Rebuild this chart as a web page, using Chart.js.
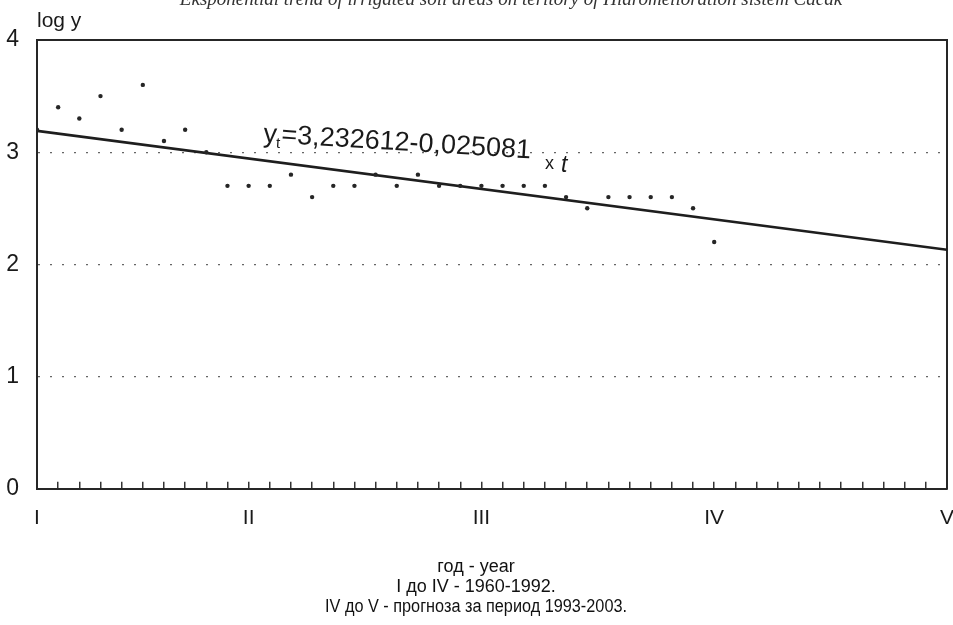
<!DOCTYPE html>
<html>
<head>
<meta charset="utf-8">
<script src="https://cdn.jsdelivr.net/npm/chart.js@4.4.1/dist/chart.umd.min.js"></script>
<style>
  html, body { margin: 0; padding: 0; background: #fff; }
  #trendChart { display: block; }
</style>
</head>
<body>
<canvas id="trendChart" width="953" height="625"></canvas>
<script>
// observed years (I .. IV) and log of irrigated area
const years = [1960, 1961, 1962, 1963, 1964, 1965, 1966, 1967, 1968, 1969, 1970,
  1971, 1972, 1973, 1974, 1975, 1976, 1977, 1978, 1979, 1980,
  1981, 1982, 1983, 1984, 1985, 1986, 1987, 1988, 1989, 1990, 1991, 1992];
const logValues = [3.2, 3.4, 3.3, 3.5, 3.2, 3.6, 3.1, 3.2, 3.0, 2.7, 2.7,
  2.7, 2.8, 2.6, 2.7, 2.7, 2.8, 2.7, 2.8, 2.7, 2.7,
  2.7, 2.7, 2.7, 2.7, 2.6, 2.5, 2.6, 2.6, 2.6, 2.6, 2.5, 2.2];

// trend line, ends (prognosis runs to 2003)
const trendYears = [1960, 2003];
const trendValues = [3.19, 2.13];

const romanYears = [1960, 1970, 1981, 1992, 2003];
const romanLabels = ["I", "II", "III", "IV", "V"];
const firstYear = 1960;
const lastYear = 2003;

const titleText = "Eksponential trend of irrigated soil areas on teritory of Hidromelioration sistem Čačak";
const axisYName = "log y";
const footerLines = ["год - year", "I до IV - 1960-1992.", "IV до V - прогноза за период 1993-2003."];
const eqMain = "=3,232612-0,025081";

const SANS = '"Liberation Sans", Arial, sans-serif';
const SERIF = '"Liberation Serif", "Times New Roman", serif';
const INK = "#1a1a1a";

const textPlugin = {
  id: "extraText",
  afterDraw(chart) {
    const { ctx, chartArea } = chart;
    ctx.save();
    ctx.textBaseline = "alphabetic";

    // title, cut by the top edge as in the scan
    ctx.textAlign = "center";
    ctx.fillStyle = "#333";
    ctx.font = "italic 19px " + SERIF;
    ctx.fillText(titleText, 511, 5);

    // footer under the axis, the scan's font runs a bit narrow on the long line
    ctx.fillStyle = "#111";
    ctx.font = "18px " + SANS;
    ctx.textBaseline = "middle";
    const footerWidths = [95, 180, 302];
    footerLines.forEach((line, i) => {
      ctx.fillText(line, 476, 567 + i * 20, footerWidths[i]);
    });
    ctx.textBaseline = "alphabetic";

    ctx.fillStyle = INK;
    ctx.textAlign = "left";
    ctx.font = "21px " + SANS;
    ctx.fillText(axisYName, chartArea.left, chartArea.top - 13);

    // regression equation, slightly tilted like the scan
    ctx.save();
    ctx.translate(263, 142);
    ctx.rotate(3.5 * Math.PI / 180);
    ctx.font = "27px " + SANS;
    ctx.fillText("y", 0, 0);
    ctx.font = "15px " + SANS;
    ctx.fillText("t", 13, 5);
    ctx.font = "27px " + SANS;
    ctx.fillText(eqMain, 18, 0);
    ctx.restore();

    ctx.font = "18px " + SANS;
    ctx.fillText("x", 545, 169);
    ctx.font = "italic 23px " + SANS;
    ctx.fillText("t", 561, 172);
    ctx.restore();
  }
};

new Chart(document.getElementById("trendChart"), {
  type: "scatter",
  data: {
    datasets: [
      {
        label: "log y",
        data: years.map((x, i) => ({ x: x, y: logValues[i] })),
        pointRadius: 2.2,
        pointBackgroundColor: "#262626",
        pointBorderWidth: 0,
        showLine: false
      },
      {
        label: "trend",
        data: trendYears.map((x, i) => ({ x: x, y: trendValues[i] })),
        showLine: true,
        borderColor: "#1e1e1e",
        borderWidth: 2.6,
        pointRadius: 0
      }
    ]
  },
  options: {
    responsive: false,
    animation: false,
    devicePixelRatio: 1,
    layout: { padding: { left: 5, right: 6, top: 40, bottom: 70 } },
    plugins: {
      legend: { display: false },
      tooltip: { enabled: false },
      title: { display: false },
      subtitle: { display: false }
    },
    scales: {
      x: {
        type: "linear",
        position: "bottom",
        min: firstYear,
        max: lastYear,
        afterBuildTicks: (axis) => {
          axis.ticks = Array.from({ length: lastYear - firstYear + 1 }, (_, i) => ({ value: firstYear + i }));
        },
        afterFit: (axis) => {
          axis.paddingLeft = 0;
          axis.paddingRight = 0;
        },
        ticks: {
          autoSkip: false,
          maxRotation: 0,
          color: INK,
          font: { family: SANS, size: 21 },
          padding: 24,
          callback: (v) => {
            const k = romanYears.indexOf(v);
            return k >= 0 ? romanLabels[k] : "";
          }
        },
        grid: { drawOnChartArea: false, drawTicks: true, tickLength: -7, color: "#333", lineWidth: 1.5 },
        border: { display: true, color: "#262626", width: 2 }
      },
      xTop: {
        type: "linear",
        position: "top",
        min: firstYear,
        max: lastYear,
        ticks: { display: false },
        grid: { display: false, drawTicks: false },
        border: { display: true, color: "#262626", width: 2 }
      },
      y: {
        min: 0,
        max: 4,
        afterFit: (axis) => {
          axis.width = 32;
        },
        ticks: { stepSize: 1, color: INK, font: { family: SANS, size: 23 }, padding: 18 },
        grid: {
          drawTicks: false,
          color: (c) => (c.tick && (c.tick.value === 0 || c.tick.value === 4)) ? "rgba(0,0,0,0)" : "#666",
          lineWidth: 1.3
        },
        border: { display: true, color: "#262626", width: 2, dash: [2, 10] }
      },
      yRight: {
        position: "right",
        min: 0,
        max: 4,
        ticks: { display: false },
        grid: { display: false, drawTicks: false },
        border: { display: true, color: "#262626", width: 2 }
      }
    }
  },
  plugins: [textPlugin]
});
</script>
</body>
</html>
